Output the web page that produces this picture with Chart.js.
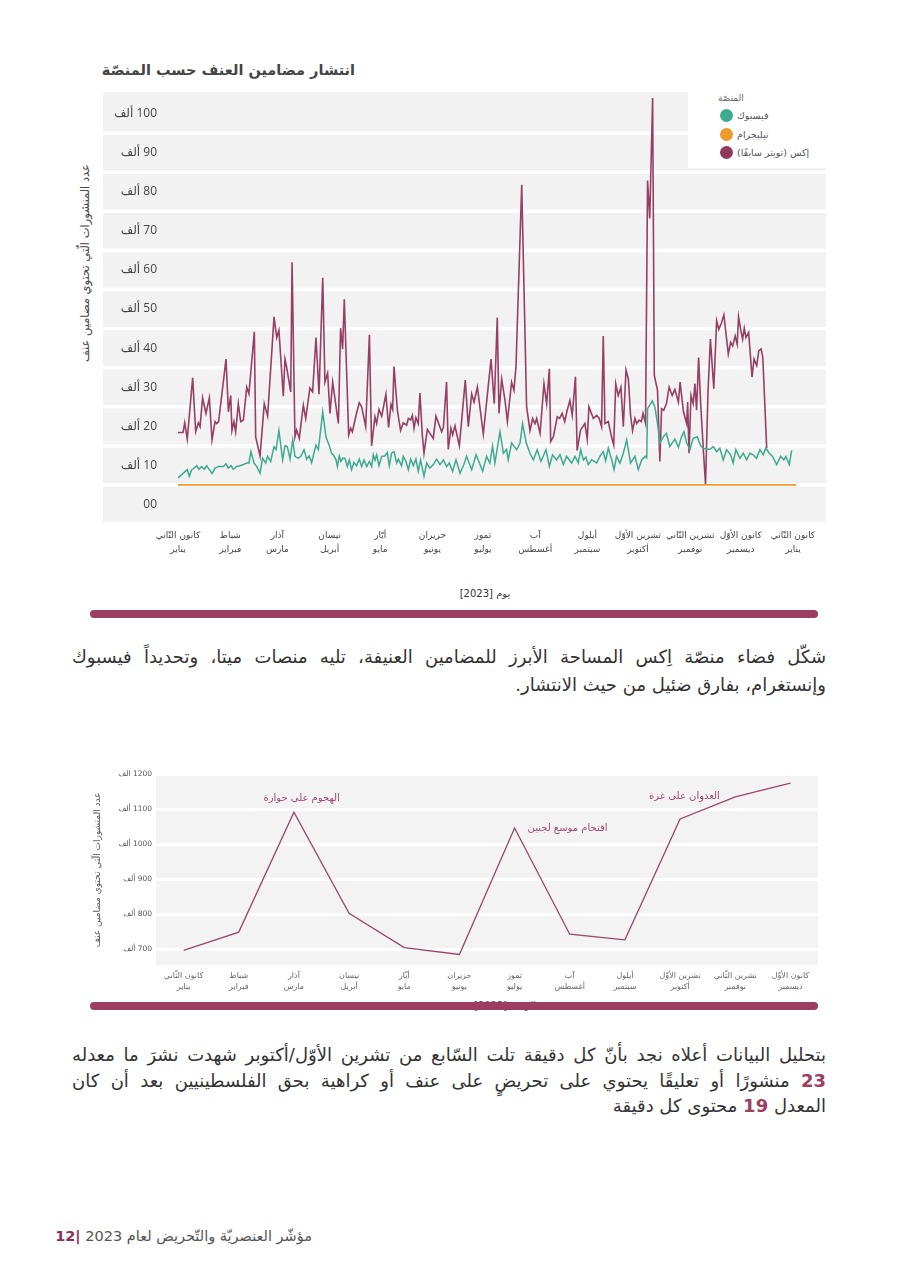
<!DOCTYPE html>
<html lang="ar">
<head>
<meta charset="utf-8">
<script src="https://cdn.jsdelivr.net/npm/chart.js@4.4.1/dist/chart.umd.min.js"></script>
<style>
    html, body { margin: 0; padding: 0; background: #fff; }
    body { width: 900px; height: 1272px; position: relative; overflow: hidden; font-family: "DejaVu Sans", sans-serif; color: #333; }
    .abs { position: absolute; white-space: nowrap; }
    #title1 { right: 545px; top: 62px; font-size: 14.5px; font-weight: bold; color: #444; }
    #ytitle1 { left: 85px; top: 263px; transform: translate(-50%, -50%) rotate(-90deg); font-size: 11.5px; color: #444; }
    #xtitle1 { left: 485px; top: 588px; transform: translateX(-50%); font-size: 10px; color: #333; }
    #xtitle2 { left: 505px; top: 1000px; transform: translateX(-50%); font-size: 10px; color: #555; }
    #chart1-wrap { left: 90px; top: 85px; width: 750px; height: 480px; }
    #chart2-wrap { left: 80px; top: 770px; width: 750px; height: 230px; }
    #legend { left: 688px; top: 92px; width: 138px; height: 76px; background: #fff; }
    #legend .ttl { position: absolute; left: 30px; top: 1px; font-size: 9px; color: #666; }
    #legend .row { position: absolute; left: 32px; height: 14px; display: flex; align-items: center; font-size: 9.5px; color: #555; }
    #legend .dot { width: 13px; height: 13px; border-radius: 50%; margin-right: 4px; }
    .bar { left: 90px; width: 728px; height: 8px; border-radius: 4px; background: #9d3d61; }
    .para { left: 72px; width: 754px; direction: rtl; color: #333; }
    .para div { white-space: nowrap; }
    .para .full { text-align: justify; text-align-last: justify; }
    .para .last { text-align: right; }
    .para b { color: #9d3d61; }
    #para1 { top: 643px; font-size: 18px; line-height: 28px; }
    #para2 { top: 1042px; font-size: 18px; line-height: 25.5px; }
    #footer { right: 588px; top: 1226px; font-size: 14.5px; line-height: 20px; color: #555; direction: rtl; }
    #footer b { color: #8e2f55; }
</style>
</head>
<body>

<div id="title1" class="abs" dir="rtl">انتشار مضامين العنف حسب المنصّة</div>
<div id="ytitle1" class="abs" dir="rtl">عدد المنشورات الّتي تحتوي مضامين عنف</div>

<div id="chart1-wrap" class="abs"><canvas id="platform-chart"></canvas></div>

<div id="legend" class="abs">
    <div class="ttl">المنصّة</div>
    <div class="row" style="top: 16px;"><span class="dot" style="background: #3daa8e;"></span><span dir="rtl">فيسبوك</span></div>
    <div class="row" style="top: 35px;"><span class="dot" style="background: #ec9b2d;"></span><span dir="rtl">تيليجرام</span></div>
    <div class="row" style="top: 53px;"><span class="dot" style="background: #8f3a5c;"></span><span dir="rtl">إكس (تويتر سابقًا)</span></div>
</div>

<div id="xtitle1" class="abs" dir="ltr">يوم [2023]</div>
<div class="bar abs" style="top: 610px;"></div>

<div id="para1" class="para abs">
    <div class="full">شكّل فضاء منصّة اِكس المساحة الأبرز للمضامين العنيفة، تليه منصات ميتا، وتحديداً فيسبوك</div>
    <div class="last">وإنستغرام، بفارق ضئيل من حيث الانتشار.</div>
</div>

<div id="chart2-wrap" class="abs"><canvas id="monthly-chart"></canvas></div>
<div id="xtitle2" class="abs" dir="rtl">الوقت [2023]</div>
<div class="bar abs" style="top: 1002px;"></div>

<div id="para2" class="para abs">
    <div class="full">بتحليل البيانات أعلاه نجد بأنّ كل دقيقة تلت السّابع من تشرين الأوّل/أكتوبر شهدت نشرَ ما معدله</div>
    <div class="full"><b>23</b> منشورًا أو تعليقًا يحتوي على تحريضٍ على عنف أو كراهية بحق الفلسطينيين بعد أن كان</div>
    <div class="last">المعدل <b>19</b> محتوى كل دقيقة</div>
</div>

<div id="footer" class="abs">مؤشّر العنصريّة والتّحريض لعام 2023 <b>|12</b></div>

<script>
// x axis months (Levantine name on top, the other name below)
const monthLabels = [
    ["كانون الثّاني", "يناير"], ["شباط", "فبراير"], ["آذار", "مارس"], ["نيسان", "أبريل"],
    ["أيّار", "مايو"], ["حزيران", "يونيو"], ["تموز", "يوليو"], ["آب", "أغسطس"],
    ["أيلول", "سبتمبر"], ["تشرين الأوّل", "أكتوبر"], ["تشرين الثّاني", "نوفمبر"], ["كانون الأوّل", "ديسمبر"],
    ["كانون الثّاني", "يناير"]
];
const monthStartDays = [0, 31, 59, 90, 120, 151, 181, 212, 243, 273, 304, 334, 365];
const yTicks1 = [0, 10, 20, 30, 40, 50, 60, 70, 80, 90, 100];
const bandLines1 = [5, 15, 25, 35, 45, 55, 65, 75, 85, 95];

// daily posts, thousands (day of 2023 -> value)
const xDays = [0, 3, 4, 5.5, 8.7, 10.5, 12.1, 13.1, 14.6, 16.6, 18.6, 20.2, 22, 23, 24.1, 28.5, 29.9, 31.3, 32, 33.2,
    34.2, 35.8, 37.2, 38.8, 40.8, 42.1, 45.3, 46.1, 48.7, 51.2, 53.2, 57, 58.6, 59.9, 62.5, 63.5, 64.5, 66.9, 67.7, 69.4,
    70.4, 72, 74.4, 75.8, 78.3, 79.9, 81.9, 83.7, 85.9, 87.2, 88.8, 90.2, 91.8, 95.2, 96.5, 97.7, 98.7, 101.3, 102.5, 103.5,
    106, 107.6, 109, 111.4, 113.6, 114.9, 116.9, 117.9, 119.3, 120.9, 123.4, 125, 126.4, 127.4, 128.2, 130.2, 132.1, 133.7, 135.7, 136.7,
    138.1, 139.1, 140.1, 141.2, 142.6, 143.6, 145, 146, 148, 151.5, 153.1, 156.5, 157.5, 159.4, 160.4, 162, 163, 164.4, 167, 170.5,
    172.3, 174.3, 175.7, 177.7, 181.2, 185.8, 187.7, 189.5, 190.5, 192.1, 194.1, 195.5, 198, 199.4, 200.6, 204, 206.9, 208.9, 210.5, 211.9,
    212.9, 214.9, 217.2, 218.8, 220.4, 221.2, 222.8, 225.1, 226.5, 228, 229.5, 231, 232.6, 234, 235.9, 236.9, 238.9, 241.5, 242.9, 243.9,
    245, 246.5, 248.5, 250, 251.4, 252.4, 253.4, 255.4, 257.3, 258.6, 259.8, 261.3, 262.9, 264.3, 265.9, 267.3, 268.6, 269.8, 271.2, 272.2,
    273.7, 275, 276, 277.5, 278.7, 280, 281.7, 282.7, 284.6, 286, 287, 288.3, 289.9, 291.5, 293.3, 294.9, 297, 298, 300, 301.9,
    302.5, 303.3, 304.5, 305.8, 306.8, 307.8, 309, 310.2, 311.8, 313.1, 314.6, 316, 318, 319.7, 321, 322.6, 324, 326.6, 328, 329.2,
    330.7, 331.9, 332.7, 334.1, 335.1, 336.1, 337.1, 338.7, 340.7, 341.9, 343.5, 344.7, 346.1, 347.1, 349.4];
const xValues = [18.4, 18.4, 20.9, 16.7, 32.4, 18.6, 20.9, 19.9, 27.3, 23.3, 27.3, 16.5, 21.2, 20.7, 21.2, 37.2, 23.7, 27.9, 18.9, 21.2,
    18.6, 25.8, 21.2, 21.6, 30, 28.3, 44.2, 17.3, 12.4, 25.8, 22.6, 48, 42.7, 44.6, 27.7, 37.2, 35.1, 28.8, 62, 17.3,
    19, 16.9, 25.4, 22, 29.8, 28.8, 42.7, 28.2, 58, 31.3, 33.6, 23.3, 31.3, 20.7, 45.1, 39.8, 52.5, 17.8, 19.5, 18.6,
    23.4, 26, 25, 19.9, 43.4, 15, 22.4, 20.7, 24.3, 22.6, 28.2, 19.7, 25.6, 24.3, 35.3, 24.1, 18.9, 20.9, 20.3, 22,
    21.6, 22.8, 19.5, 22.2, 20.7, 28.5, 17.8, 13.1, 19.2, 16.9, 22.6, 18.6, 19.7, 31.3, 14.1, 19.5, 17.8, 20.1, 15, 31.8,
    19.9, 28.3, 26.2, 30, 18, 37.2, 25.8, 47.8, 23.3, 32.1, 26.6, 21.2, 31.3, 29.2, 35.3, 81.8, 25, 18.9, 22, 20.7,
    22, 18.2, 30.9, 25.8, 34.7, 16.1, 17.3, 22.4, 22, 23.3, 21.2, 24.1, 26.6, 22.8, 32.7, 13.8, 19, 20.7, 16.7, 25,
    23.7, 22, 22.8, 22, 19.9, 43.1, 20.7, 21.2, 17.3, 15.2, 30.9, 27.9, 30, 19.9, 34.4, 32.1, 22.8, 18.9, 22, 20.7,
    21.6, 21.2, 23.3, 20.7, 82.9, 73.2, 104, 33, 29.2, 11, 24.5, 24.1, 25.8, 30, 27.9, 29.4, 26.2, 31.3, 23.7, 20.7,
    26.2, 13.1, 27.9, 25.8, 30.9, 24.1, 37.6, 25.8, 14, 5.1, 29.2, 42.3, 29.6, 47, 44.8, 46.5, 48.5, 38.5, 41.5, 40.6,
    43.1, 41, 48, 44.4, 42.3, 45.1, 42.7, 44, 32.6, 37.2, 35.5, 39.3, 39.8, 37.6, 14.4];

const fbDays = [0, 3.2, 5.5, 6.7, 8.1, 9.6, 11.1, 12.5, 14, 15.5, 17, 18.6, 20.2, 22, 24, 26.9, 28.5, 29.9, 31.5, 32.8,
    34.8, 36.8, 38.8, 40.8, 42.1, 43.3, 45.1, 46.7, 48.7, 50.2, 52, 53.2, 55, 57, 58.2, 59.9, 62.1, 63.5, 64.9, 66.5,
    68.1, 69.4, 71.4, 73, 74.8, 76.4, 77.9, 79.3, 81.9, 83.3, 85.9, 87.8, 89.8, 91.2, 92.2, 93.8, 94.6, 95.7, 96.7, 97.7,
    99.1, 100.5, 101.7, 103, 104.4, 106, 107.6, 109, 110.4, 112, 113.6, 114.9, 115.9, 116.9, 117.9, 119.3, 120.9, 122.8, 124.2, 125.4,
    126.8, 128.2, 129.8, 130.8, 132.7, 133.7, 135.3, 136.7, 138.1, 139.7, 141.2, 142.6, 144, 146, 147.6, 149.5, 151.5, 153.5, 155.5, 157.5,
    159.4, 161, 163, 165, 167.4, 169.5, 171.3, 174.3, 176.9, 178.9, 180.8, 183.2, 185.1, 186.7, 188.1, 191.1, 193.1, 195, 196, 198,
    201, 203, 204.5, 206.7, 208.9, 210.9, 213.2, 215.4, 218.4, 220.4, 222.3, 224.7, 226.7, 228.7, 230.6, 233.6, 235.6, 237.6, 239, 240.6,
    242.1, 243.5, 245.5, 248.5, 250.4, 252.4, 253.8, 255.4, 257.4, 258.8, 260.3, 262.3, 264.3, 266.3, 268.6, 271.2, 273.2, 275.2, 277.2, 278.2,
    278.7, 280, 281.5, 283, 284.6, 286, 288, 289.9, 291.9, 294.9, 297, 299, 300.3, 301.9, 303.9, 305.8, 308.2, 310.2, 311.8, 313.7,
    315.7, 317.7, 319.7, 321.6, 323.6, 325.6, 328, 329.5, 331.1, 333.5, 335.5, 337.5, 339.5, 341.4, 343.3, 345.4, 347.3, 348.9, 350.9, 352.9,
    355.3, 357.7, 359.6, 360.8, 362.8, 364.2];
const fbValues = [6.8, 8, 8.9, 7.2, 8.9, 9.3, 9.9, 9, 9.7, 9, 9.9, 8.9, 7.9, 9.3, 9.7, 9.7, 10.4, 9.3, 9.9, 9,
    9.7, 9.9, 10.2, 10.6, 10.6, 13.5, 10.6, 9.7, 8, 11.8, 10.6, 12.3, 11, 14.8, 14, 18.9, 11.4, 15, 14.8, 11.6,
    16.5, 12.3, 11.8, 12.4, 14, 11.6, 12.4, 10.7, 15.2, 14, 23.7, 17.3, 15, 13, 12.7, 11.4, 9.7, 12.4, 11, 11.8,
    11.8, 9.7, 11.4, 8.9, 10.7, 9.9, 11.6, 9.7, 11.4, 9.7, 11, 9.7, 12.7, 11.3, 12.7, 9.9, 12.3, 12.4, 13.3, 9.9,
    13.1, 13.5, 10.6, 11.6, 9.9, 12.3, 11, 8.9, 11.6, 9.9, 11.6, 8.5, 11.4, 7.2, 10.6, 9.3, 10.2, 11.6, 10.2, 11.4,
    9.7, 10.6, 8.5, 11.4, 8, 10, 12.3, 8.9, 12.7, 10.6, 8.5, 12.3, 10.6, 15, 10.6, 18.6, 13.1, 14.1, 11.4, 15.7,
    14, 15.7, 20.7, 15.7, 13.1, 11.4, 14, 11, 14, 9.7, 12.7, 11.4, 12.7, 10.2, 12.3, 10.6, 12.3, 10.6, 14, 11.4,
    12.1, 10.2, 11.4, 10.6, 12.3, 13.5, 11.2, 14.4, 11.4, 8.9, 12.3, 10.6, 13.1, 16.5, 10.6, 12.3, 8.9, 11.4, 12.3, 11.9,
    24.5, 25.4, 26.5, 25, 20.7, 15.7, 17.3, 18.2, 14.8, 16.7, 14.6, 17.5, 18.6, 15.7, 14.1, 16.9, 17.3, 15, 14.4, 14.1,
    14.1, 14.8, 13.5, 14.4, 11.4, 14, 12.7, 10.6, 14, 11.8, 13.1, 11.4, 13.1, 12.7, 11.8, 14, 12.7, 14.4, 13.1, 12.3,
    10.2, 12.3, 11.4, 12.3, 10.2, 13.8];

const tgDays = [0, 367];
const tgValues = [5, 5];

// second chart: monthly posts, thousands
const months2 = monthLabels.slice(0, 12);
const monthlyValues = [697, 749, 1092, 803, 705, 685, 1047, 743, 727, 1073, 1136, 1175];
const yTicks2 = [700, 800, 900, 1000, 1100, 1200];
const noteTexts = ["الهجوم على حوارة", "اقتحام موسع لجنين", "العدوان على غزة"];
const noteX = [2.14, 6.96, 9.08];
const noteY = [1131, 1045, 1137];

Chart.defaults.font.family = '"DejaVu Sans", sans-serif';

const toPoints = (days, values) => days.map((d, i) => ({x: d, y: values[i]}));

// "ألف" on the left, the number on the right (LRM keeps the number out of the arabic run)
const thousandLabel = (v) => `ألف\u200E ${v}`;

// grey plot background with white lines, drawn under the axes
const backgroundBands = {
    id: 'backgroundBands',
    beforeDraw: (chart, args, opts) => {
        const {ctx, chartArea, scales} = chart;
        const left = opts.fromAxis ? scales.y.left : chartArea.left;
        ctx.save();
        ctx.fillStyle = opts.color;
        ctx.fillRect(left, chartArea.top, chartArea.right - left, chartArea.bottom - chartArea.top);
        ctx.strokeStyle = '#ffffff';
        ctx.lineWidth = opts.lineWidth;
        (opts.lines || []).forEach((v) => {
            const y = scales.y.getPixelForValue(v);
            ctx.beginPath();
            ctx.moveTo(left, y);
            ctx.lineTo(chartArea.right, y);
            ctx.stroke();
        });
        ctx.restore();
    }
};

// event notes on the monthly chart
const eventNotes = {
    id: 'eventNotes',
    afterDatasetsDraw: (chart) => {
        const {ctx, scales: {x, y}} = chart;
        ctx.save();
        ctx.fillStyle = '#a34a72';
        ctx.font = '10px "DejaVu Sans", sans-serif';
        ctx.textAlign = 'center';
        ctx.textBaseline = 'middle';
        noteTexts.forEach((t, i) => {
            ctx.fillText(t, x.getPixelForValue(noteX[i]), y.getPixelForValue(noteY[i]));
        });
        ctx.restore();
    }
};

// invisible tick marks push the labels away from the plot without adding top padding
const hiddenTicks = (len) => ({display: true, color: 'rgba(0,0,0,0)', drawOnChartArea: false, drawTicks: true, tickLength: len});

let platformChart = new Chart(document.getElementById("platform-chart"), {
    type: 'line',
    data: {
        datasets: [{
            label: 'تيليجرام',
            data: toPoints(tgDays, tgValues),
            borderColor: '#ec9b2d',
            borderWidth: 1.6,
            pointRadius: 0
        }, {
            label: 'فيسبوك',
            data: toPoints(fbDays, fbValues),
            borderColor: '#3daa8e',
            borderWidth: 1.5,
            pointRadius: 0
        }, {
            label: 'إكس (تويتر سابقًا)',
            data: toPoints(xDays, xValues),
            borderColor: '#963f63',
            borderWidth: 1.6,
            pointRadius: 0
        }]
    },
    plugins: [backgroundBands],
    options: {
        responsive: true,
        maintainAspectRatio: false,
        animation: false,
        layout: {
            padding: {left: 13, right: 14, top: 7, bottom: 0}
        },
        plugins: {
            legend: {display: false},
            tooltip: {enabled: false},
            backgroundBands: {fromAxis: true, color: '#f2f2f2', lineWidth: 3.5, lines: bandLines1}
        },
        scales: {
            x: {
                type: 'linear',
                min: 0,
                max: 384.6,
                afterBuildTicks: (axis) => { axis.ticks = monthStartDays.map(v => ({value: v})); },
                afterFit: (axis) => { axis.height = 43; },
                grid: {display: false, drawTicks: false},
                border: {display: false},
                ticks: {
                    autoSkip: false,
                    maxRotation: 0,
                    padding: 7,
                    color: '#444',
                    font: {size: 9, lineHeight: 1.55},
                    callback: (v, i) => monthLabels[i]
                }
            },
            y: {
                min: -4.5,
                max: 105.5,
                afterBuildTicks: (axis) => { axis.ticks = yTicks1.map(v => ({value: v})); },
                afterFit: (axis) => { axis.width = 75; },
                grid: hiddenTicks(21),
                border: {display: false},
                ticks: {
                    padding: 0,
                    color: '#444',
                    font: {size: 12, family: '"Open Sans", "DejaVu Sans", sans-serif'},
                    callback: (v) => v === 0 ? '00' : thousandLabel(v)
                }
            }
        }
    }
});

let monthlyChart = new Chart(document.getElementById("monthly-chart"), {
    type: 'line',
    data: {
        labels: months2,
        datasets: [{
            label: 'المنشورات',
            data: monthlyValues,
            borderColor: '#98466a',
            borderWidth: 1.3,
            pointRadius: 0,
            tension: 0
        }]
    },
    plugins: [backgroundBands, eventNotes],
    options: {
        responsive: true,
        maintainAspectRatio: false,
        animation: false,
        layout: {
            padding: {left: 0, right: 12, top: 4, bottom: 0}
        },
        plugins: {
            legend: {display: false},
            tooltip: {enabled: false},
            backgroundBands: {fromAxis: false, color: '#f3f3f3', lineWidth: 0, lines: []}
        },
        scales: {
            x: {
                offset: true,
                afterFit: (axis) => { axis.height = 35; },
                grid: {display: false, drawTicks: false},
                border: {display: false},
                ticks: {
                    autoSkip: false,
                    maxRotation: 0,
                    padding: 5,
                    color: '#666',
                    font: {size: 8, lineHeight: 1.4}
                }
            },
            y: {
                min: 655,
                max: 1200,
                afterBuildTicks: (axis) => { axis.ticks = yTicks2.map(v => ({value: v})); },
                afterFit: (axis) => { axis.width = 76; },
                grid: {color: '#ffffff', lineWidth: 3, drawTicks: true, tickLength: 4, tickColor: 'rgba(0,0,0,0)'},
                border: {display: false},
                ticks: {
                    padding: 0,
                    color: '#555',
                    font: {size: 7.5},
                    callback: thousandLabel
                },
                title: {
                    display: true,
                    text: 'عدد المنشورات الّتي تحتوي مضامين عنف',
                    color: '#555',
                    font: {size: 9},
                    padding: 12
                }
            }
        }
    }
});
</script>
</body>
</html>
